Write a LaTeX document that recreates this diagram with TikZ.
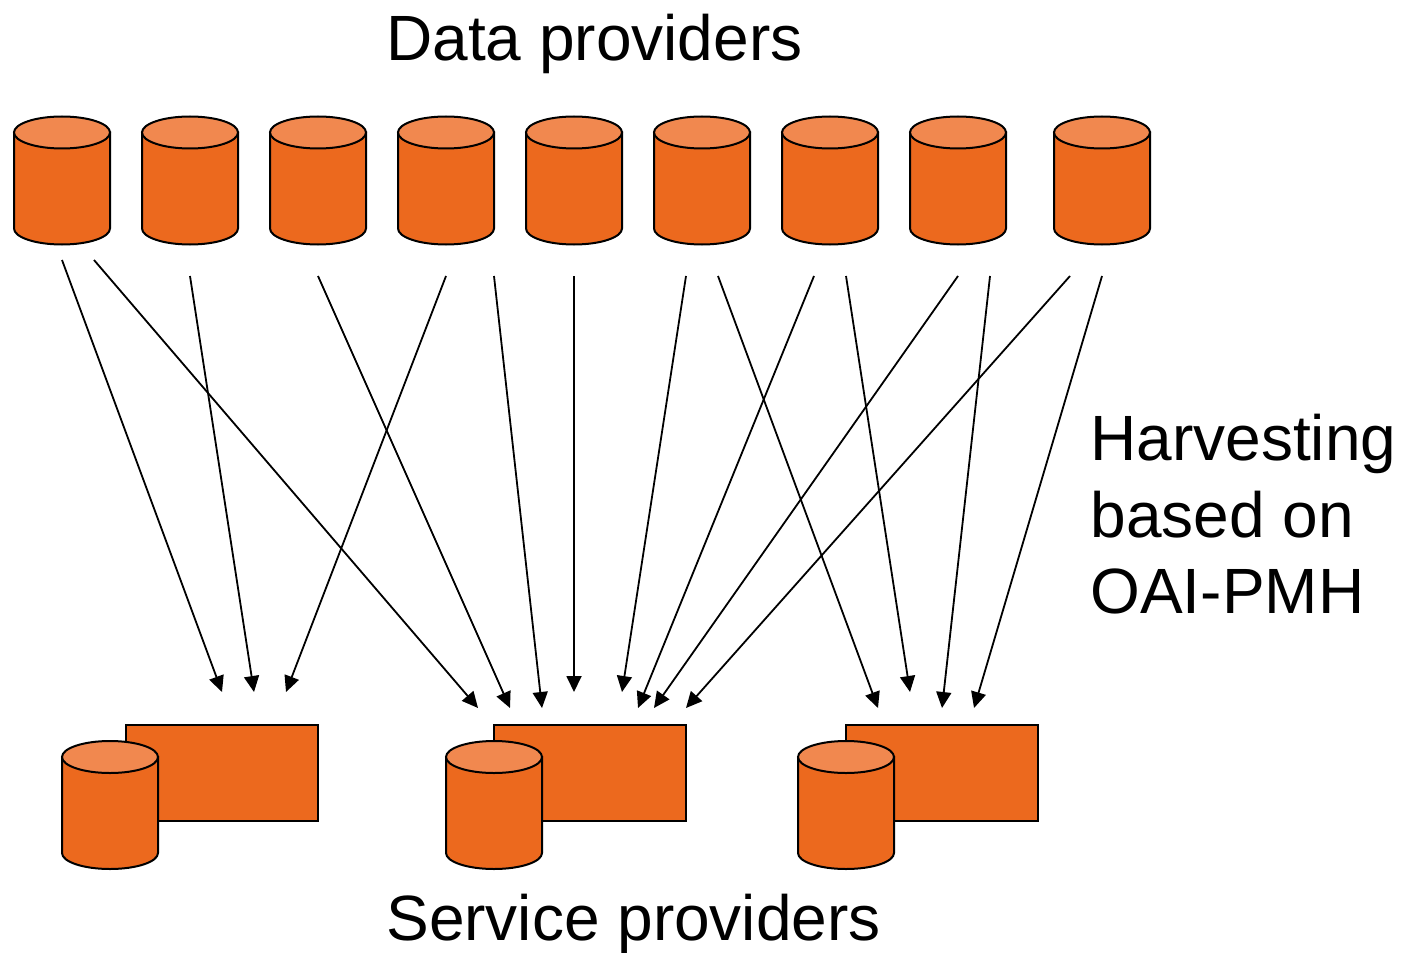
\documentclass[tikz,border=0pt]{standalone}
\usepackage{fontspec}
\setmainfont{Liberation Sans}
\usetikzlibrary{arrows.meta}
\definecolor{body}{HTML}{EC691E}
\definecolor{lid}{HTML}{F1884F}
\tikzset{
  x=0.5pt,y=-0.5pt,
  solid box/.style={draw=black,line width=1pt,fill=body},
  tray/.style={solid box,minimum width=96pt,minimum height=48pt,inner sep=0pt,outer sep=0pt,anchor=north west},
  link/.style={draw=black,line width=0.9pt,-{Triangle[length=8pt,width=7.5pt]}},
  label/.style={inner sep=0pt,anchor=base west,font=\fontsize{32}{38}\selectfont},
  pics/drum/.style={code={
    \path[solid box] (-48,-48) -- (-48,48) arc[start angle=180,end angle=360,x radius=24pt,y radius=8pt] -- (48,-48) -- cycle;
    \path[solid box,fill=lid] (0,-48) ellipse[x radius=24pt,y radius=8pt];
  }}
}
\begin{document}
\begin{tikzpicture}
\useasboundingbox (0,0) rectangle (1401,952);
% data providers
\foreach \n/\x in {1/62,2/190,3/318,4/446,5/574,6/702,7/830,8/958,9/1102}
  \pic at (\x,180.5) {drum};
% service providers
\node[tray] (s1) at (126,725) {};
\node[tray] (s2) at (494,725) {};
\node[tray] (s3) at (846,725) {};
\pic at (110,805) {drum};
\pic at (494,805) {drum};
\pic at (846,805) {drum};
% connector ends
\foreach \n/\x/\y in {
 a1/62/260,a2/94/260,a3/190/276,a4/318/276,a5/446/276,a6/494/276,a7/574/276,a8/686/276,
 a9/718/276,a10/814/276,a11/846/276,a12/958/276,a13/990/276,a14/1070/276,a15/1102/276,
 b1/222/692,b2/478/708,b3/254/692,b4/510/708,b5/286/692,b6/542/708,b7/574/692,b8/622/692,
 b9/878/708,b10/638/708,b11/910/692,b12/654/708,b13/942/708,b14/686/708,b15/974/708}
  \coordinate (\n) at (\x,\y);
\foreach \i in {1,...,15}
  \draw[link] (a\i) -- (b\i);
% labels
\node[label] (t1) at (386,61) {Data providers};
\node[label] (t2) at (386,940) {Service providers};
\node[label] (t3) at (1090,460) {Harvesting};
\node[label] (t4) at (1090,537) {based on};
\node[label] (t5) at (1090,613) {OAI-PMH};
\end{tikzpicture}
\end{document}
